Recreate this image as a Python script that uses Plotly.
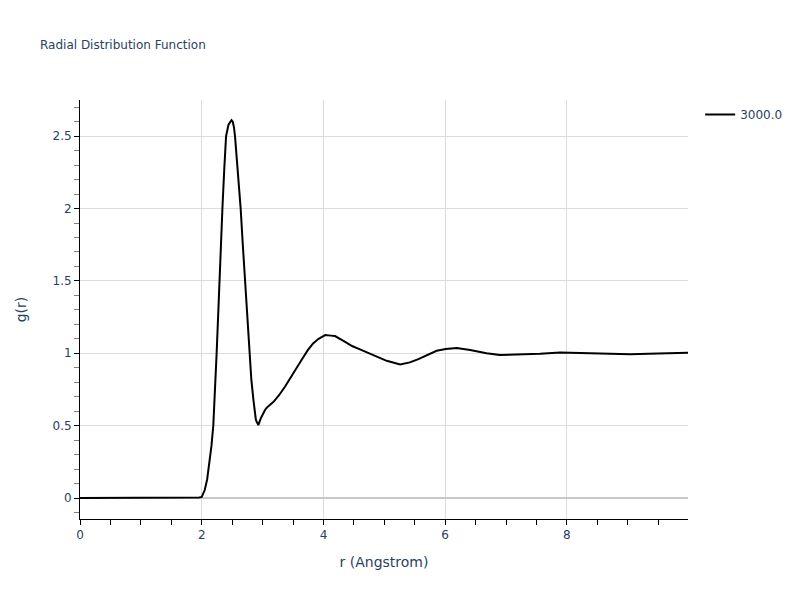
import plotly.graph_objects as go

r_vals = [0.0, 0.8, 0.82, 1.9, 1.96, 2.0, 2.05, 2.09, 2.12, 2.16, 2.19, 2.22, 2.245, 2.27, 2.29, 2.315,
          2.34, 2.37, 2.40, 2.44, 2.47, 2.49, 2.51, 2.53, 2.547, 2.59, 2.64, 2.675, 2.71, 2.745,
          2.78, 2.815, 2.85, 2.89, 2.93, 2.97, 3.04, 3.07, 3.18, 3.27, 3.37, 3.51, 3.64, 3.74,
          3.83, 3.92, 4.03, 4.12, 4.19, 4.35, 4.47, 4.60, 4.82, 5.04, 5.26, 5.42, 5.56, 5.70,
          5.86, 6.01, 6.19, 6.41, 6.68, 6.90, 7.23, 7.56, 7.89, 8.2, 8.49, 9.04, 9.50, 9.99]
g_vals = [0.0, 0.0, 0.002, 0.002, 0.004, 0.008, 0.055, 0.13, 0.216, 0.36, 0.5, 0.73, 1.0, 1.26, 1.5, 1.75,
          2.0, 2.27, 2.5, 2.58, 2.605, 2.61, 2.6, 2.56, 2.5, 2.27, 2.0, 1.75, 1.5, 1.25,
          1.0, 0.82, 0.677, 0.54, 0.504, 0.55, 0.608, 0.625, 0.665, 0.71, 0.77, 0.86, 0.953, 1.02,
          1.068, 1.10, 1.126, 1.122, 1.119, 1.08, 1.05, 1.027, 0.988, 0.948, 0.923, 0.937, 0.96, 0.988,
          1.017, 1.029, 1.036, 1.022, 1.0, 0.988, 0.99, 0.997, 1.006, 1.002, 0.996, 0.993, 0.998, 1.003]

series_name = "3000.0"

fig = go.Figure()
fig.add_trace(go.Scatter(x=r_vals, y=g_vals, mode="lines", name=series_name,
                         line=dict(color="black", width=2)))

axis_common = dict(showline=True, linecolor="black", linewidth=1, ticks="outside",
                   ticklen=5, tickcolor="black", showgrid=True, gridcolor="#dcdcdc",
                   zeroline=True, zerolinecolor="#c8c8c8", zerolinewidth=2,
                   tickfont=dict(size=12))

fig.update_layout(
    template="plotly_white",
    width=784, height=584,
    font=dict(family="Verdana, DejaVu Sans, sans-serif", color="#2a3f5f"),
    title=dict(text="Radial Distribution Function", font=dict(size=12),
               x=32 / 784, xanchor="left", y=1 - 37 / 584, yanchor="middle"),
    xaxis=dict(title=dict(text="r (Angstrom)", font=dict(size=14)), range=[0, 9.99],
               dtick=2, minor=dict(dtick=0.5, ticks="outside", ticklen=5, tickcolor="black", showgrid=False),
               **axis_common),
    yaxis=dict(title=dict(text="g(r)", font=dict(size=14), standoff=22), range=[-0.145, 2.75],
               dtick=0.5, minor=dict(dtick=0.1, ticks="outside", ticklen=5, tickcolor="gray", showgrid=False),
               **axis_common),
    showlegend=True,
    legend=dict(font=dict(size=12), x=1.02, y=1, xanchor="left", yanchor="top"),
    margin=dict(l=72, r=104, t=92, b=73, autoexpand=False),
)

fig.write_html("out.html")
